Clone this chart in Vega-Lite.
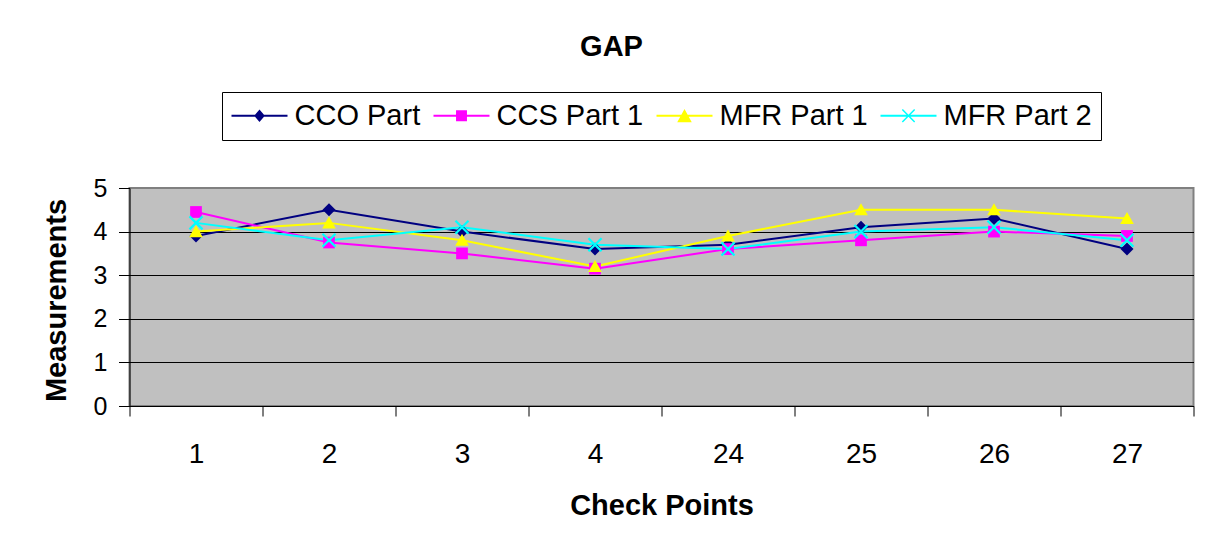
{
  "$schema": "https://vega.github.io/schema/vega-lite/v6.json",
  "width": 1064,
  "height": 218,
  "autosize": {"type": "none"},
  "padding": {"left": 129.5, "top": 188, "right": 12.5, "bottom": 144},
  "background": "white",
  "title": {
    "text": "GAP",
    "fontSize": 29,
    "fontWeight": "bold",
    "font": "Liberation Sans",
    "color": "black",
    "frame": "group",
    "anchor": "middle",
    "orient": "top",
    "offset": 7,
    "baseline": "alphabetic",
    "dx": -50
  },
  "data": {
    "values": [
      {"point": "1", "series": "CCO Part", "value": 3.9},
      {"point": "2", "series": "CCO Part", "value": 4.5},
      {"point": "3", "series": "CCO Part", "value": 4.0},
      {"point": "4", "series": "CCO Part", "value": 3.6},
      {"point": "24", "series": "CCO Part", "value": 3.7},
      {"point": "25", "series": "CCO Part", "value": 4.1},
      {"point": "26", "series": "CCO Part", "value": 4.3},
      {"point": "27", "series": "CCO Part", "value": 3.6},
      {"point": "1", "series": "CCS Part 1", "value": 4.45},
      {"point": "2", "series": "CCS Part 1", "value": 3.75},
      {"point": "3", "series": "CCS Part 1", "value": 3.5},
      {"point": "4", "series": "CCS Part 1", "value": 3.15},
      {"point": "24", "series": "CCS Part 1", "value": 3.6},
      {"point": "25", "series": "CCS Part 1", "value": 3.8},
      {"point": "26", "series": "CCS Part 1", "value": 4.0},
      {"point": "27", "series": "CCS Part 1", "value": 3.9},
      {"point": "1", "series": "MFR Part 1", "value": 4.0},
      {"point": "2", "series": "MFR Part 1", "value": 4.2},
      {"point": "3", "series": "MFR Part 1", "value": 3.8},
      {"point": "4", "series": "MFR Part 1", "value": 3.2},
      {"point": "24", "series": "MFR Part 1", "value": 3.9},
      {"point": "25", "series": "MFR Part 1", "value": 4.5},
      {"point": "26", "series": "MFR Part 1", "value": 4.5},
      {"point": "27", "series": "MFR Part 1", "value": 4.3},
      {"point": "1", "series": "MFR Part 2", "value": 4.2},
      {"point": "2", "series": "MFR Part 2", "value": 3.8},
      {"point": "3", "series": "MFR Part 2", "value": 4.1},
      {"point": "4", "series": "MFR Part 2", "value": 3.7},
      {"point": "24", "series": "MFR Part 2", "value": 3.6},
      {"point": "25", "series": "MFR Part 2", "value": 4.0},
      {"point": "26", "series": "MFR Part 2", "value": 4.1},
      {"point": "27", "series": "MFR Part 2", "value": 3.8}
    ]
  },
  "encoding": {
    "x": {
      "field": "point",
      "type": "nominal",
      "sort": null,
      "scale": {"type": "band", "paddingInner": 0, "paddingOuter": 0},
      "axis": {
        "title": "Check Points",
        "labelAngle": 0,
        "labelFontSize": 28,
        "labelColor": "black",
        "labelBaseline": "alphabetic",
        "labelPadding": 46,
        "tickBand": "extent",
        "tickSize": 10,
        "tickColor": "black",
        "domainColor": "black",
        "grid": false,
        "titleFontSize": 29,
        "titleFontWeight": "bold",
        "titleColor": "black",
        "titleBaseline": "alphabetic",
        "titleY": 108
      }
    },
    "y": {
      "field": "value",
      "type": "quantitative",
      "scale": {"domain": [0, 5], "nice": false, "zero": true},
      "axis": {
        "title": "Measurements",
        "values": [0, 1, 2, 3, 4, 5],
        "labelFontSize": 25,
        "labelColor": "black",
        "labelPadding": 11.5,
        "tickSize": 11,
        "tickColor": "black",
        "domainColor": "black",
        "grid": true,
        "gridColor": {"condition": {"test": "datum.value === 5", "value": "#808080"}, "value": "black"},
        "gridOpacity": 1,
        "titleFontSize": 29,
        "titleFontWeight": "bold",
        "titleColor": "black",
        "titleBaseline": "alphabetic",
        "titleAlign": "center",
        "titleAngle": -90,
        "titleX": -64.5,
        "titleY": 112
      }
    }
  },
  "resolve": {"scale": {"color": "independent", "shape": "independent"}},
  "layer": [
    {
      "mark": {"type": "line", "strokeWidth": 2},
      "encoding": {
        "color": {
          "field": "series",
          "type": "nominal",
          "scale": {
            "domain": ["CCO Part", "CCS Part 1", "MFR Part 1", "MFR Part 2"],
            "range": ["#000080", "#FF00FF", "#FFFF00", "#00FFFF"]
          },
          "legend": null
        }
      }
    },
    {
      "mark": {"type": "point", "filled": true, "opacity": 1, "size": 170},
      "encoding": {
        "color": {
          "field": "series",
          "type": "nominal",
          "scale": {
            "domain": ["CCO Part", "CCS Part 1", "MFR Part 1", "MFR Part 2"],
            "range": ["#000080", "#FF00FF", "#FFFF00", "#00FFFF"]
          },
          "legend": null
        },
        "shape": {
          "field": "series",
          "type": "nominal",
          "scale": {
            "domain": ["CCO Part", "CCS Part 1", "MFR Part 1", "MFR Part 2"],
            "range": [
              "M0,-1L1,0L0,1L-1,0Z",
              "M-0.9,-0.9H0.9V0.9H-0.9Z",
              "M0,-1L1.05,0.85L-1.05,0.85Z",
              "M-0.88,-1.12L1.12,0.88L0.88,1.12L-1.12,-0.88ZM-0.88,1.12L-1.12,0.88L0.88,-1.12L1.12,-0.88Z"
            ]
          },
          "legend": null
        }
      }
    },
    {
      "mark": {"type": "point", "filled": true, "opacity": 0, "size": 144},
      "encoding": {
        "color": {
          "field": "series",
          "type": "nominal",
          "scale": {
            "domain": ["CCO Part", "CCS Part 1", "MFR Part 1", "MFR Part 2"],
            "range": ["#000080", "#FF00FF", "#FFFF00", "#00FFFF"]
          },
          "legend": {
            "title": null,
            "orient": "none",
            "direction": "horizontal",
            "legendX": 92.5,
            "legendY": -96,
            "fillColor": "white",
            "strokeColor": "black",
            "padding": 9,
            "labelFontSize": 29,
            "labelColor": "black",
            "labelFont": "Liberation Sans",
            "labelOffset": 34.5,
            "columnPadding": 12,
            "symbolSize": 784,
            "symbolOpacity": 1,
            "symbolStrokeWidth": 0
          }
        },
        "shape": {
          "field": "series",
          "type": "nominal",
          "scale": {
            "domain": ["CCO Part", "CCS Part 1", "MFR Part 1", "MFR Part 2"],
            "range": [
              "M-1,-0.07H3V0.07H-1ZM1,-0.45L1.38,0L1,0.45L0.62,0Z",
              "M-1,-0.07H3V0.07H-1ZM0.61,-0.39H1.39V0.39H0.61Z",
              "M-1,-0.07H3V0.07H-1ZM1,-0.48L1.52,0.46L0.48,0.46Z",
              "M-1,-0.07H3V0.07H-1ZM0.598,-0.478L1.478,0.402L1.402,0.478L0.522,-0.402ZM0.598,0.478L0.522,0.402L1.402,-0.478L1.478,-0.402Z"
            ]
          },
          "legend": {
            "title": null,
            "orient": "none",
            "direction": "horizontal",
            "legendX": 92.5,
            "legendY": -96,
            "fillColor": "white",
            "strokeColor": "black",
            "padding": 9,
            "labelFontSize": 29,
            "labelColor": "black",
            "labelFont": "Liberation Sans",
            "labelOffset": 34.5,
            "columnPadding": 12,
            "symbolSize": 784,
            "symbolOpacity": 1,
            "symbolStrokeWidth": 0
          }
        }
      }
    }
  ],
  "config": {
    "font": "Liberation Sans",
    "view": {"fill": "#C0C0C0", "stroke": "#808080", "strokeWidth": 2},
    "axis": {"domainWidth": 1, "tickWidth": 1, "gridWidth": 1}
  }
}
